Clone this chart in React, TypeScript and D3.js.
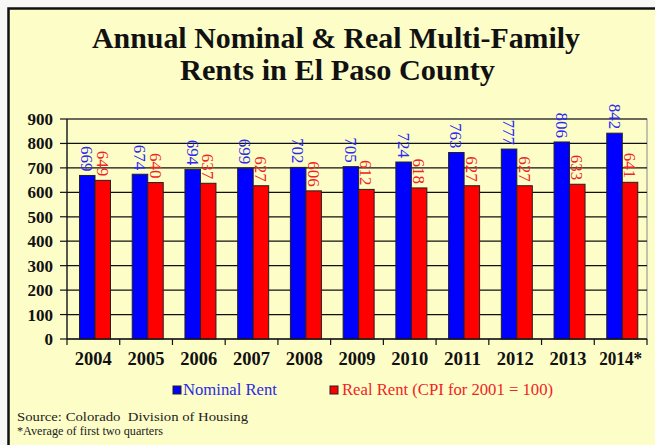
import React from 'react'
import * as d3 from 'd3'

const years = ['2004', '2005', '2006', '2007', '2008', '2009', '2010', '2011', '2012', '2013', '2014*']
const nominalRent = [669, 674, 694, 699, 702, 705, 724, 763, 777, 806, 842]
const realRent = [649, 640, 637, 627, 606, 612, 618, 627, 627, 633, 641]
const yTicks = [0, 100, 200, 300, 400, 500, 600, 700, 800, 900]

const series = [
  { key: 'nominal', values: nominalRent, fill: '#0000ff', label: '#2a2af0' },
  { key: 'real', values: realRent, fill: '#ff0000', label: '#f02424' },
]

const serif = '"Liberation Serif", "Times New Roman", "DejaVu Serif Condensed", "DejaVu Serif", serif'

const App: React.FC = () => {
  const left = 67
  const right = 647
  const top = 119
  const bottom = 339

  const xScale = d3.scaleBand<string>().domain(years).range([left, right])
  const bw = xScale.bandwidth()
  const inner = d3.scaleBand<string>().domain(series.map(s => s.key)).range([12.5, 43.5])
  const yScale = d3.scaleLinear().domain([0, 900]).range([bottom, top])

  return (
    <svg width={655} height={445} style={{ position: 'absolute', left: 0, top: 0, background: '#f7f7f5' }}>
      {/* frame */}
      <rect x={8.5} y={8.5} width={660} height={450} fill="#fdfdc8" stroke="#111" strokeWidth={2.5} />

      <text x={92} y={48} textLength={488} lengthAdjust="spacingAndGlyphs" fontFamily={serif} fontWeight="bold" fontSize={29} fill="#111">
        Annual Nominal &amp; Real Multi-Family
      </text>
      <text x={180} y={80} textLength={315} lengthAdjust="spacingAndGlyphs" fontFamily={serif} fontWeight="bold" fontSize={29} fill="#111">
        Rents in El Paso County
      </text>

      {/* plot area */}
      <rect x={left} y={top} width={right - left} height={bottom - top} fill="#fdfdc8" stroke="#888" strokeWidth={1} />
      {yTicks.map(t => (
        <g key={t}>
          <line x1={left} x2={right} y1={yScale(t)} y2={yScale(t)} stroke="#111" strokeWidth={1.2} />
          <line x1={left - 7} x2={left} y1={yScale(t)} y2={yScale(t)} stroke="#111" strokeWidth={1.2} />
          <text x={53} y={yScale(t)} dy="0.35em" textAnchor="end" fontFamily={serif} fontWeight="bold" fontSize={17} fill="#111">
            {t}
          </text>
        </g>
      ))}

      {/* bars */}
      {series.map(s =>
        s.values.map((v, i) => {
          const bx = (xScale(years[i]) as number) + (inner(s.key) as number)
          const w = inner.bandwidth()
          return (
            <g key={`${s.key}-${i}`}>
              <rect x={bx} y={yScale(v)} width={w} height={bottom - yScale(v)} fill={s.fill} stroke="#222" strokeWidth={1} />
              <text
                transform={`translate(${bx + w / 2},${yScale(v) - 4}) rotate(90)`}
                dy="0.35em"
                textAnchor="end"
                fontFamily={serif}
                fontSize={17}
                fill={s.label}
              >
                {v}
              </text>
            </g>
          )
        })
      )}

      {/* x axis */}
      <line x1={left} x2={right} y1={bottom} y2={bottom} stroke="#111" strokeWidth={1.2} />
      <line x1={left} x2={left} y1={top} y2={bottom} stroke="#111" strokeWidth={1.2} />
      {years.map((yr, i) => (
        <line key={`t${i}`} x1={(xScale(yr) as number) + bw} x2={(xScale(yr) as number) + bw} y1={bottom} y2={bottom + 6} stroke="#111" strokeWidth={1.2} />
      ))}
      <line x1={left} x2={left} y1={bottom} y2={bottom + 6} stroke="#111" strokeWidth={1.2} />
      {years.map(yr => (
        <text
          key={yr}
          x={(xScale(yr) as number) + bw / 2}
          y={365}
          textAnchor="middle"
          textLength={yr.length > 4 ? 43 : 37}
          lengthAdjust="spacingAndGlyphs"
          fontFamily={serif}
          fontWeight="bold"
          fontSize={18}
          fill="#111"
        >
          {yr}
        </text>
      ))}

      {/* legend */}
      <rect x={173} y={386} width={8} height={8} fill="#0000ff" stroke="#222" strokeWidth={1} />
      <text x={183} y={395} textLength={94} lengthAdjust="spacingAndGlyphs" fontFamily={serif} fontSize={17} fill="#2a2ae0">Nominal Rent</text>
      <rect x={330} y={386} width={8} height={8} fill="#ff0000" stroke="#222" strokeWidth={1} />
      <text x={342} y={395} textLength={211} lengthAdjust="spacingAndGlyphs" fontFamily={serif} fontSize={17} fill="#f02424">Real Rent (CPI for 2001 = 100)</text>

      {/* source */}
      <text x={17} y={421} textLength={231} lengthAdjust="spacingAndGlyphs" fontFamily={serif} fontSize={12} fill="#222">Source: Colorado&#160; Division of Housing</text>
      <text x={17} y={435} textLength={146} lengthAdjust="spacingAndGlyphs" fontFamily={serif} fontSize={12} fill="#222">*Average of first two quarters</text>
    </svg>
  )
}

export default App
